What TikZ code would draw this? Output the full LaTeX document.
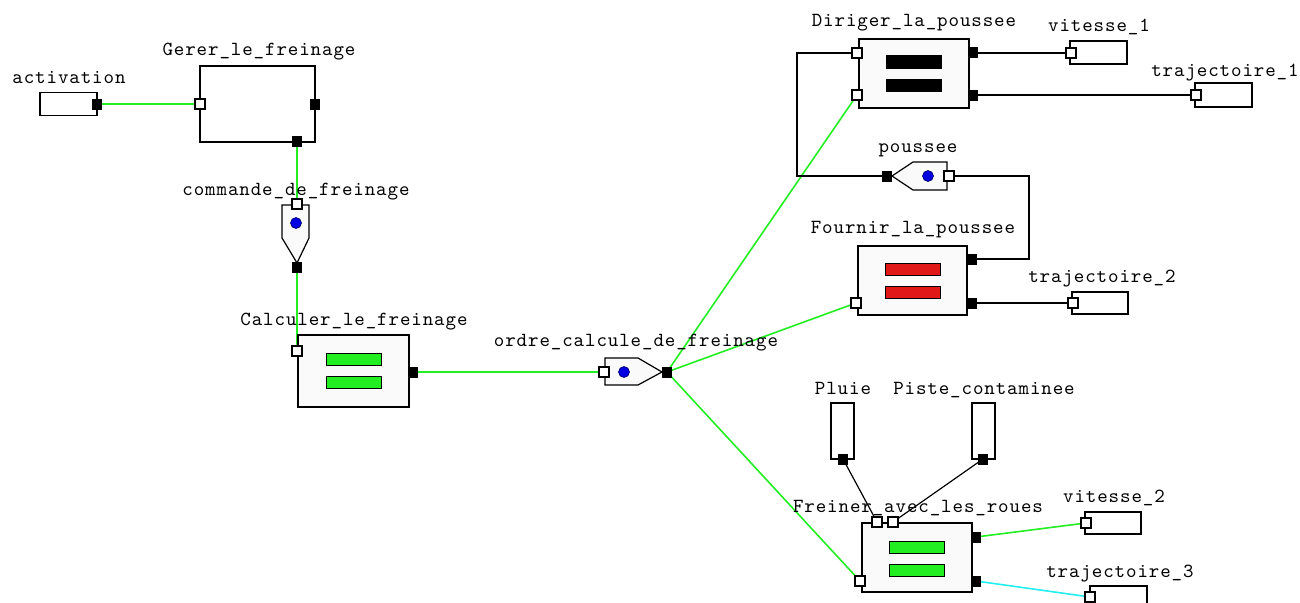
\documentclass[tikz,border=0pt]{standalone}
\usepackage{fontspec}
\newfontfamily\diagfont{lmmono10-regular.otf}[LetterSpace=4.5]
\usetikzlibrary{calc}
\pgfdeclarelayer{bg}
\pgfsetlayers{bg,main}
\definecolor{lgreen}{HTML}{22EE22}
\definecolor{wire}{HTML}{22EE22}
\definecolor{cyanwire}{HTML}{22EEEE}
\definecolor{redbar}{HTML}{E01818}
\definecolor{boxfill}{HTML}{FAFAFA}
\definecolor{dotblue}{HTML}{0000E0}
\begin{document}
\begin{tikzpicture}[x=1pt,y=-1pt,
  lbl/.style={font=\diagfont\fontsize{20}{20}\selectfont, anchor=base, inner sep=0pt},
  thinbox/.style={draw, line width=1.4pt, fill=white, inner sep=0pt},
  funcbox/.style={draw, line width=2.8pt, fill=boxfill, inner sep=0pt},
  inport/.style={draw, line width=1.2pt, fill=white, inner sep=0pt, minimum width=10pt, minimum height=10pt},
  outport/.style={fill=black, inner sep=0pt, minimum width=10pt, minimum height=11pt},
  bar/.style={draw, line width=1pt, inner sep=0pt, minimum width=55pt, minimum height=12pt},
  flowshape/.style={draw, line width=1.2pt, fill=boxfill},
  dot/.style={fill=dotblue, draw=black!60!blue, line width=0.6pt},
  gwire/.style={draw=wire, line width=1.6pt},
  cwire/.style={draw=cyanwire, line width=1.6pt},
  bwire/.style={draw=black, line width=1.2pt}
]
\useasboundingbox (0,0) rectangle (1300,602);

% ---------- labels ----------
\node[lbl] (l-act) at (69,83) {activation};
\node[lbl] (l-ger) at (259,56) {Gerer\_le\_freinage};
\node[lbl] (l-cmd) at (296,195) {commande\_de\_freinage};
\node[lbl] (l-calc) at (354,325) {Calculer\_le\_freinage};
\node[lbl] (l-ord) at (636,346) {ordre\_calcule\_de\_freinage};
\node[lbl] (l-dir) at (914,27) {Diriger\_la\_poussee};
\node[lbl] (l-v1) at (1099,32) {vitesse\_1};
\node[lbl] (l-t1) at (1225,77) {trajectoire\_1};
\node[lbl] (l-pou) at (918,152) {poussee};
\node[lbl] (l-fou) at (913,233) {Fournir\_la\_poussee};
\node[lbl] (l-t2) at (1102,282) {trajectoire\_2};
\node[lbl] (l-plu) at (843,394) {Pluie};
\node[lbl] (l-pis) at (984,394) {Piste\_contaminee};
\node[lbl] (l-fre) at (918,512) {Freiner\_avec\_les\_roues};
\node[lbl] (l-v2) at (1114,502) {vitesse\_2};
\node[lbl] (l-t3) at (1120,577) {trajectoire\_3};

% ---------- boxes ----------
\node[thinbox, minimum width=57pt, minimum height=23pt] (act) at (68.5,104) {};
\node[thinbox, minimum width=115pt, minimum height=76pt] (ger) at (257.5,104) {};
\node[funcbox, minimum width=111pt, minimum height=72pt] (calc) at (353.5,371) {};
\node[funcbox, minimum width=110pt, minimum height=69pt] (dir) at (914,73.5) {};
\node[funcbox, minimum width=109pt, minimum height=69pt] (fou) at (912.5,280.5) {};
\node[funcbox, minimum width=110pt, minimum height=69pt] (fre) at (917,557.5) {};
\node[thinbox, minimum width=57pt, minimum height=23pt] (v1) at (1098.5,52.5) {};
\node[thinbox, minimum width=57pt, minimum height=24pt] (t1) at (1223.5,95) {};
\node[thinbox, minimum width=56pt, minimum height=22pt] (t2) at (1100,303) {};
\node[thinbox, minimum width=56pt, minimum height=22pt] (v2) at (1113,523) {};
\node[thinbox, minimum width=57pt, minimum height=22pt] (t3) at (1118.5,597) {};
\node[thinbox, minimum width=23pt, minimum height=56pt] (plu) at (842.5,431) {};
\node[thinbox, minimum width=23pt, minimum height=56pt] (pis) at (983.5,431) {};

% ---------- bars ----------
\node[bar, fill=lgreen] (calc-b1) at (354,359) {};
\node[bar, fill=lgreen] (calc-b2) at (354,382.5) {};
\node[bar, fill=black] (dir-b1) at (914,62) {};
\node[bar, fill=black] (dir-b2) at (914,85.5) {};
\node[bar, fill=redbar] (fou-b1) at (912.5,269) {};
\node[bar, fill=redbar] (fou-b2) at (912.5,292.5) {};
\node[bar, fill=lgreen] (fre-b1) at (917,547) {};
\node[bar, fill=lgreen] (fre-b2) at (917,570) {};

% ---------- flow shapes ----------
\draw[flowshape] (282,205) -- (309,205) -- (309,238) -- (297,263) -- (282,238) -- cycle;
\fill[dot] (296,223) circle (5.5pt);
\draw[flowshape] (605,358) -- (638,358) -- (662,372) -- (638,385) -- (605,385) -- cycle;
\fill[dot] (624,372) circle (5.5pt);
\draw[flowshape] (947,162) -- (913,162) -- (892,176) -- (913,190) -- (947,190) -- cycle;
\fill[dot] (928,176) circle (5.5pt);

% ---------- ports ----------
\node[outport] (act-o) at (97,104) {};
\node[inport] (ger-i) at (200,104) {};
\node[outport] (ger-o1) at (315,104) {};
\node[outport] (ger-o2) at (297,141.5) {};
\node[inport] (cmd-i) at (297,204) {};
\node[outport] (cmd-o) at (297,267) {};
\node[inport] (calc-i) at (297,351) {};
\node[outport] (calc-o) at (413,372) {};
\node[inport] (ord-i) at (604,372) {};
\node[outport] (ord-o) at (667,372) {};
\node[inport] (dir-i1) at (857,53) {};
\node[inport] (dir-i2) at (857,95) {};
\node[outport] (dir-o1) at (973,53) {};
\node[outport] (dir-o2) at (973,95) {};
\node[inport] (v1-i) at (1071,53) {};
\node[inport] (t1-i) at (1196,95) {};
\node[outport] (pou-o) at (887,176) {};
\node[inport] (pou-i) at (949,176) {};
\node[outport] (fou-o1) at (972,259) {};
\node[outport] (fou-o2) at (972,303) {};
\node[inport] (fou-i) at (856,303) {};
\node[inport] (t2-i) at (1073,303) {};
\node[outport] (plu-o) at (843,459) {};
\node[outport] (pis-o) at (983,459) {};
\node[inport] (fre-i1) at (877,522) {};
\node[inport] (fre-i2) at (893,522) {};
\node[inport] (fre-i3) at (860,581) {};
\node[outport] (fre-o1) at (976,537) {};
\node[outport] (fre-o2) at (976,581) {};
\node[inport] (v2-i) at (1086,523) {};
\node[inport] (t3-i) at (1090,597) {};

\coordinate (c1) at (797,176);
\coordinate (c2) at (1029,176);

% ---------- connectors ----------
\begin{pgfonlayer}{bg}
\draw[gwire] (act-o.center) -- (ger-i.center);
\draw[gwire] (ger-o2.center) -- (cmd-i.center);
\draw[gwire] (cmd-o.center) -- (calc-i.center);
\draw[gwire] (calc-o.center) -- (ord-i.center);
\draw[gwire] (ord-o.center) -- (dir-i2.center);
\draw[gwire] (ord-o.center) -- (fou-i.center);
\draw[gwire] (ord-o.center) -- (fre-i3.center);
\draw[gwire] (fre-o1.center) -- (v2-i.center);
\draw[cwire] (fre-o2.center) -- (t3-i.center);
\draw[bwire] (dir-o1.center) -- (v1-i.center);
\draw[bwire] (dir-o2.center) -- (t1-i.center);
\draw[bwire] (dir-i1.center) -| (c1) -- (pou-o.center);
\draw[bwire] (pou-i.center) -- (c2) |- (fou-o1.center);
\draw[bwire] (fou-o2.center) -- (t2-i.center);
\draw[bwire] (plu-o.center) -- (fre-i1.center);
\draw[bwire] (pis-o.center) -- (fre-i2.center);
\end{pgfonlayer}
\end{tikzpicture}
\end{document}
